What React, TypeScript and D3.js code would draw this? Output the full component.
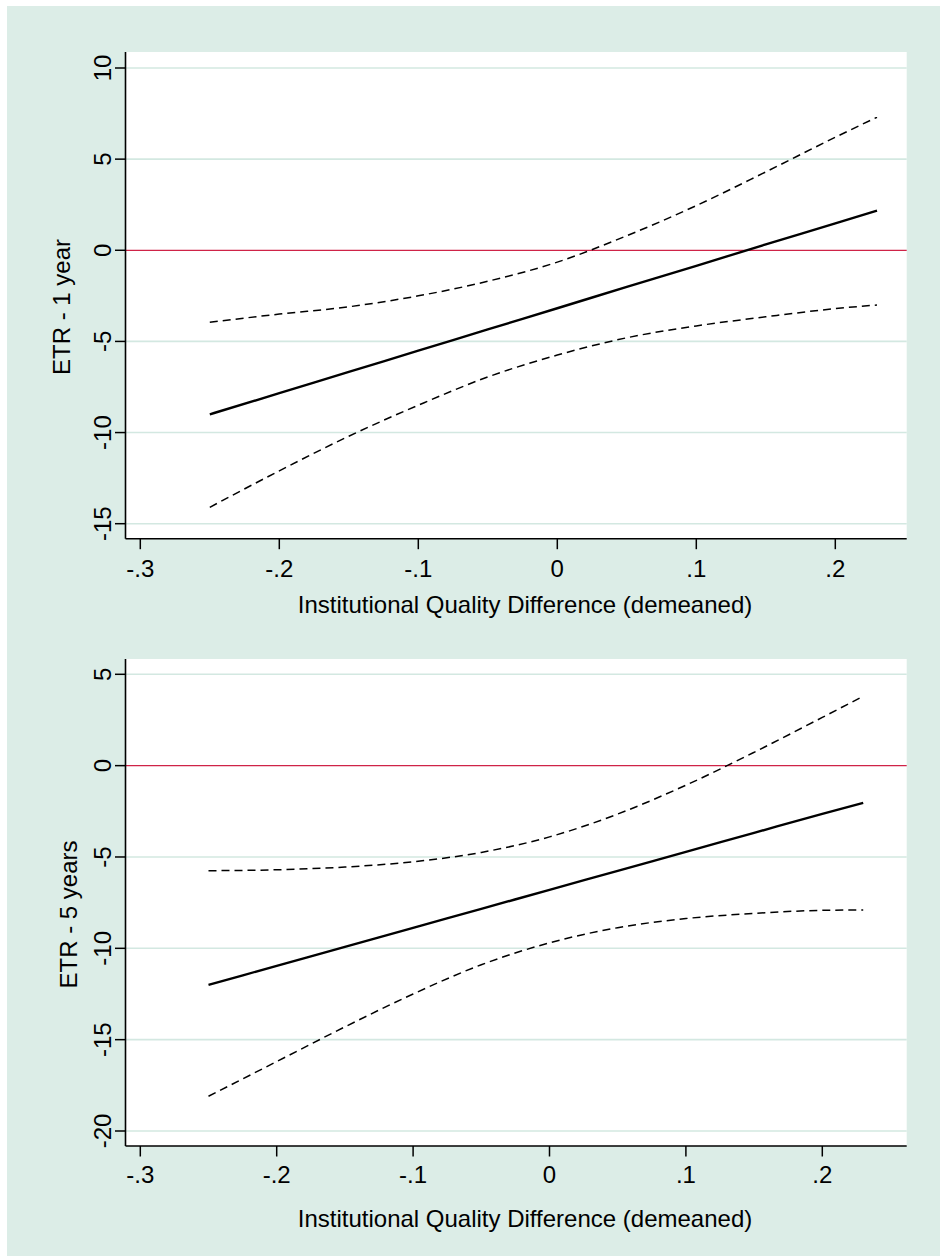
import React, { useEffect, useRef } from "react";
import * as d3 from "d3";

// x positions where the fitted line and its bands were read
const xValues = [-0.25, -0.2, -0.15, -0.1, -0.05, 0, 0.05, 0.1, 0.15, 0.2, 0.23];

// ETR - 1 year
const fit1 = [-9.0, -7.84, -6.67, -5.51, -4.34, -3.18, -2.01, -0.85, 0.32, 1.48, 2.18];
const upper1 = [-3.95, -3.5, -3.1, -2.5, -1.7, -0.65, 0.8, 2.45, 4.3, 6.2, 7.3];
const lower1 = [-14.1, -12.1, -10.2, -8.5, -6.95, -5.75, -4.8, -4.15, -3.65, -3.2, -3.0];

// ETR - 5 years
const fit5 = [-12.0, -10.96, -9.92, -8.88, -7.84, -6.8, -5.76, -4.72, -3.68, -2.64, -2.04];
const upper5 = [-5.75, -5.7, -5.55, -5.26, -4.75, -3.9, -2.65, -1.07, 0.73, 2.64, 3.8];
const lower5 = [-18.1, -16.2, -14.3, -12.5, -10.9, -9.7, -8.87, -8.37, -8.09, -7.92, -7.9];

const xTicks = [-0.3, -0.2, -0.1, 0, 0.1, 0.2];
const xTickLabels = ["-.3", "-.2", "-.1", "0", ".1", ".2"];
const yTicks1 = [-15, -10, -5, 0, 5, 10];
const yTicks5 = [-20, -15, -10, -5, 0, 5];
const xTitle = "Institutional Quality Difference (demeaned)";

const W = 940;
const H = 1256;
const bg = "#dcede7";
const grid = "#d3e8e1";
const font = "'Liberation Sans', Arial, sans-serif";

const panels = [
  {
    fit: fit1, upper: upper1, lower: lower1, yTicks: yTicks1, yTitle: "ETR - 1 year",
    left: 125.5, right: 906.7, top: 52, bottom: 538.7,
    xRange: [140.3, 835.3], yRange: [523.7, 68],
    xTickY: 576.7, xTitleY: 612.5, yTitleX: 70, yTitleY: 307,
  },
  {
    fit: fit5, upper: upper5, lower: lower5, yTicks: yTicks5, yTitle: "ETR - 5 years",
    left: 125.5, right: 906.7, top: 659, bottom: 1146,
    xRange: [140.3, 822.3], yRange: [1131, 674.3],
    xTickY: 1182.7, xTitleY: 1226.7, yTitleX: 77, yTitleY: 914.5,
  },
];

const App = () => {
  const svgRef = useRef(null);

  useEffect(() => {
    document.body.style.margin = "0";
    const svg = d3.select(svgRef.current);
    svg.selectAll("*").remove();

    svg.append("rect").attr("x", 7).attr("y", 6).attr("width", W - 7).attr("height", H - 6).attr("fill", bg);

    panels.forEach((p) => {
      const x = d3.scaleLinear().domain([xTicks[0], xTicks[xTicks.length - 1]]).range(p.xRange);
      const y = d3.scaleLinear().domain([p.yTicks[0], p.yTicks[p.yTicks.length - 1]]).range(p.yRange);
      const g = svg.append("g");

      g.append("rect")
        .attr("x", p.left).attr("y", p.top)
        .attr("width", p.right - p.left).attr("height", p.bottom - p.top)
        .attr("fill", "#fff");

      // gridlines
      g.selectAll(".grid")
        .data(p.yTicks.filter((t) => t !== 0))
        .join("line")
        .attr("x1", p.left).attr("x2", p.right)
        .attr("y1", (d) => y(d)).attr("y2", (d) => y(d))
        .attr("stroke", grid).attr("stroke-width", 1.6);

      // zero reference line
      g.append("line")
        .attr("x1", p.left).attr("x2", p.right)
        .attr("y1", y(0)).attr("y2", y(0))
        .attr("stroke", "#cf2347").attr("stroke-width", 1.3);

      const line = d3.line()
        .x((d, i) => x(xValues[i]))
        .y((d) => y(d))
        .curve(d3.curveMonotoneX);

      g.append("path").attr("d", line(p.upper)).attr("fill", "none")
        .attr("stroke", "#000").attr("stroke-width", 1.5).attr("stroke-dasharray", "8,5");
      g.append("path").attr("d", line(p.lower)).attr("fill", "none")
        .attr("stroke", "#000").attr("stroke-width", 1.5).attr("stroke-dasharray", "8,5");
      g.append("path").attr("d", line(p.fit)).attr("fill", "none")
        .attr("stroke", "#000").attr("stroke-width", 2.4);

      // axes
      g.append("line").attr("x1", p.left).attr("x2", p.left).attr("y1", p.top).attr("y2", p.bottom)
        .attr("stroke", "#000").attr("stroke-width", 1.6);
      g.append("line").attr("x1", p.left).attr("x2", p.right).attr("y1", p.bottom).attr("y2", p.bottom)
        .attr("stroke", "#000").attr("stroke-width", 1.6);

      g.selectAll(".ytick")
        .data(p.yTicks)
        .join("line")
        .attr("x1", p.left - 10.5).attr("x2", p.left)
        .attr("y1", (d) => y(d)).attr("y2", (d) => y(d))
        .attr("stroke", "#000").attr("stroke-width", 1.5);

      g.selectAll(".ylab")
        .data(p.yTicks)
        .join("text")
        .attr("transform", (d) => `translate(110.7,${y(d)}) rotate(-90)`)
        .attr("text-anchor", "middle")
        .attr("font-family", font).attr("font-size", 24)
        .text((d) => String(d));

      g.selectAll(".xtick")
        .data(xTicks)
        .join("line")
        .attr("x1", (d) => x(d)).attr("x2", (d) => x(d))
        .attr("y1", p.bottom).attr("y2", p.bottom + 10.5)
        .attr("stroke", "#000").attr("stroke-width", 1.5);

      g.selectAll(".xlab")
        .data(xTicks)
        .join("text")
        .attr("x", (d) => x(d)).attr("y", p.xTickY)
        .attr("text-anchor", "middle")
        .attr("font-family", font).attr("font-size", 24)
        .text((d, i) => xTickLabels[i]);

      g.append("text")
        .attr("x", 525).attr("y", p.xTitleY)
        .attr("text-anchor", "middle")
        .attr("font-family", font).attr("font-size", 24)
        .text(xTitle);

      g.append("text")
        .attr("transform", `translate(${p.yTitleX},${p.yTitleY}) rotate(-90)`)
        .attr("text-anchor", "middle")
        .attr("font-family", font).attr("font-size", 24)
        .text(p.yTitle);
    });
  }, []);

  return <svg ref={svgRef} width={W} height={H} style={{ display: "block" }}></svg>;
};

export default App;
